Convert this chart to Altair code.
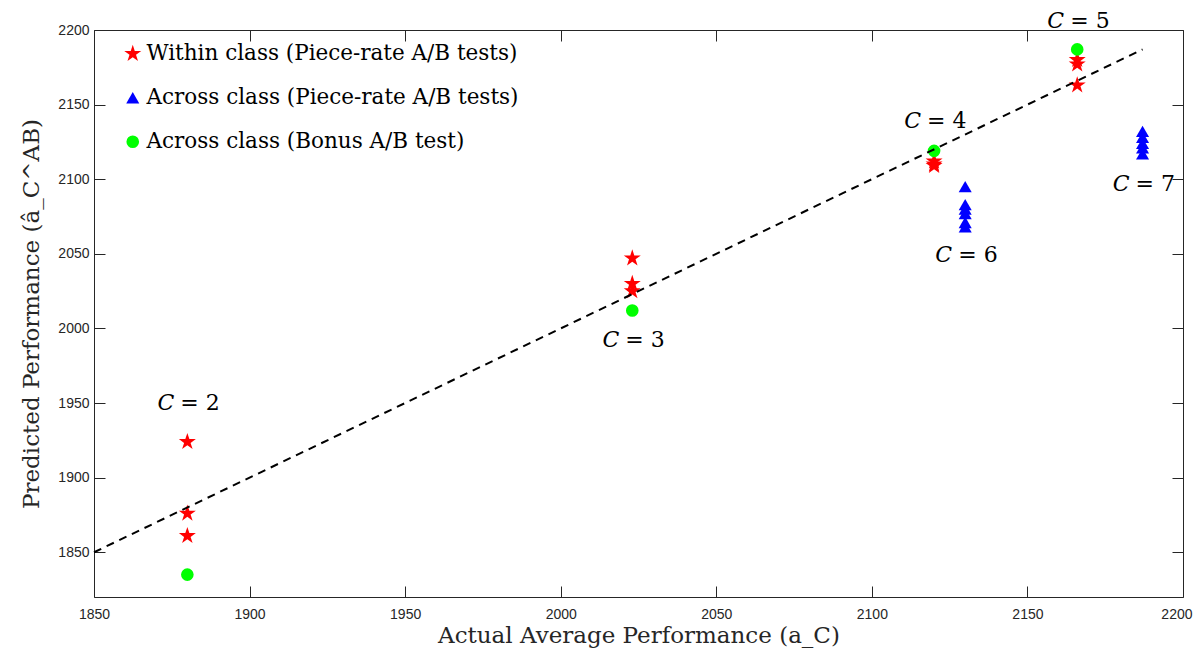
import altair as alt
import pandas as pd

SERIES = [
    "Within class (Piece-rate A/B tests)",
    "Across class (Piece-rate A/B tests)",
    "Across class (Bonus A/B test)",
]

within_actual = [1880, 1880, 1880, 2023, 2023, 2023, 2120, 2120, 2120, 2166, 2166, 2166]
within_pred = [1924, 1876, 1861, 2047, 2030, 2025, 2112, 2110, 2109, 2180, 2177, 2163]

across_actual = [2130, 2130, 2130, 2130, 2130, 2130, 2187, 2187, 2187, 2187, 2187]
across_pred = [2095, 2083, 2080, 2077, 2071, 2068, 2132, 2128, 2124, 2121, 2117]

bonus_actual = [1880, 2023, 2120, 2166]
bonus_pred = [1835, 2012, 2119, 2187]

diag_vals = [1850, 2187]

class_names = ["2", "3", "4", "5", "6", "7"]
label_x = [1880, 2023, 2120, 2166, 2130, 2187]
label_y = [1950, 1992, 2139, 2206, 2049, 2097]

x_ticks = [1850, 1900, 1950, 2000, 2050, 2100, 2150, 2200]
y_ticks = [1850, 1900, 1950, 2000, 2050, 2100, 2150, 2200]

pts = pd.concat([
    pd.DataFrame({"actual": within_actual, "pred": within_pred, "series": SERIES[0]}),
    pd.DataFrame({"actual": across_actual, "pred": across_pred, "series": SERIES[1]}),
    pd.DataFrame({"actual": bonus_actual, "pred": bonus_pred, "series": SERIES[2]}),
], ignore_index=True)
diag = pd.DataFrame({"actual": diag_vals, "pred": diag_vals})
labels = pd.DataFrame({"x": label_x, "y": label_y, "c": ["C"] * 6,
                       "rest": ["= " + c for c in class_names]})

STAR = ("M0,-1L0.2245,-0.309L0.951,-0.309L0.363,0.118L0.588,0.809L0,0.382"
        "L-0.588,0.809L-0.363,0.118L-0.951,-0.309L-0.2245,-0.309Z")

xs = alt.Scale(domain=[1850, 2200], nice=False, zero=False)
ys = alt.Scale(domain=[1820, 2200], nice=False, zero=False)

AX = "#262626"
SERIF = "DejaVu Serif"

tick_axis = dict(domain=False, tickSize=11, offset=-11, tickColor=AX, grid=False,
                 labelFont="Liberation Sans", labelFontSize=14, labelColor=AX,
                 labelFlush=False, labelOverlap=False, format="d")
title_style = dict(titleFont=SERIF, titleFontSize=23, titleFontWeight="normal",
                   titleColor=AX)

legend = alt.Legend(title=None, orient="none", legendX=28, legendY=13,
                    labelFont=SERIF, labelFontSize=21.5, labelColor="black",
                    labelOffset=3, rowPadding=21, padding=0, symbolStrokeWidth=0,
                    fillColor="white", labelLimit=600)

last_x = x_ticks[-1]
points = alt.Chart(pts).mark_point(filled=True, opacity=1, strokeWidth=0).encode(
    x=alt.X("actual:Q", scale=xs,
            axis=alt.Axis(orient="bottom", values=x_ticks, labelPadding=10, titlePadding=3,
                          labelAlign=alt.condition(f"datum.value == {last_x}", alt.value("right"), alt.value("center")),
                          labelOffset=alt.condition(f"datum.value == {last_x}", alt.value(9), alt.value(0)),
                          title="Actual Average Performance (a_C)", **tick_axis, **title_style)),
    y=alt.Y("pred:Q", scale=ys,
            axis=alt.Axis(orient="left", values=y_ticks, labelPadding=5, titlePadding=14,
                          title="Predicted Performance (â_C^AB)", **tick_axis, **title_style)),
    color=alt.Color("series:N", scale=alt.Scale(domain=SERIES, range=["#ff0000", "#0000ff", "#00ff00"]),
                    legend=legend),
    shape=alt.Shape("series:N", scale=alt.Scale(domain=SERIES, range=[STAR, "triangle-up", "circle"]),
                    legend=legend),
    size=alt.Size("series:N", scale=alt.Scale(type="ordinal", domain=SERIES, range=[320, 170, 160]),
                  legend=legend),
)

line = alt.Chart(diag).mark_line(color="black", strokeWidth=2, strokeDash=[8, 6]).encode(
    x=alt.X("actual:Q", scale=xs,
            axis=alt.Axis(orient="top", values=x_ticks, labels=False, title=None, **tick_axis)),
    y=alt.Y("pred:Q", scale=ys,
            axis=alt.Axis(orient="right", values=y_ticks, labels=False, title=None, **tick_axis)),
)

c_text = alt.Chart(labels).mark_text(font=SERIF, fontSize=22, fontStyle="italic",
                                     align="right", baseline="middle", dx=-13, color="black").encode(
    x=alt.X("x:Q", scale=xs, axis=None), y=alt.Y("y:Q", scale=ys, axis=None), text="c:N")
rest_text = alt.Chart(labels).mark_text(font=SERIF, fontSize=22,
                                        align="left", baseline="middle", dx=-7, color="black").encode(
    x=alt.X("x:Q", scale=xs, axis=None), y=alt.Y("y:Q", scale=ys, axis=None), text="rest:N")

chart = alt.layer(points, line, c_text, rest_text).resolve_axis(
    x="independent", y="independent"
).properties(
    width=1089, height=567,
    autosize=alt.AutoSizeParams(type="none"),
    padding={"left": 86, "top": 22, "right": 10, "bottom": 54},
).configure_view(stroke=AX, strokeWidth=1)

chart.save("out.html", embed_options={"renderer": "svg", "actions": False})
